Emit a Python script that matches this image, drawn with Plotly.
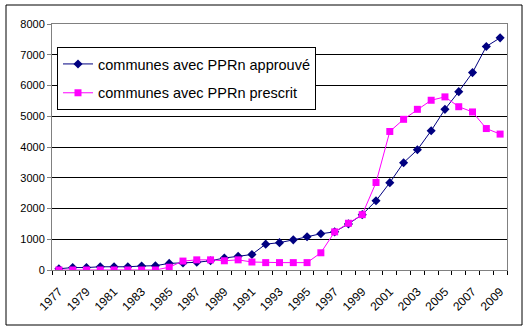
import plotly.graph_objects as go

years = list(range(1977, 2010))
approuve = [40, 80, 80, 105, 105, 105, 130, 140, 215, 230, 250, 300, 390, 445, 505,
            840, 890, 980, 1080, 1180, 1240, 1500, 1800, 2250, 2840, 3490, 3910, 4530,
            5225, 5800, 6420, 7270, 7550]
prescrit = [0, 0, 0, 0, 0, 0, 0, 0, 90, 290, 330, 330, 300, 330, 260,
            240, 240, 240, 240, 560, 1240, 1520, 1800, 2845, 4505, 4900, 5225, 5520,
            5630, 5310, 5140, 4600, 4420]
tick_years = list(range(1977, 2010, 2))
tick_labels = [str(y) for y in tick_years]
y_ticks = list(range(0, 8001, 1000))

fig = go.Figure()
fig.add_trace(go.Scatter(
    x=years, y=approuve, mode="lines+markers", name="communes avec PPRn approuvé",
    line=dict(color="#000080", width=1),
    marker=dict(symbol="diamond", size=7, color="#000080"),
    legendgroup="a",
))
fig.add_trace(go.Scatter(
    x=years, y=prescrit, mode="lines+markers", name="communes avec PPRn prescrit",
    line=dict(color="#FF00FF", width=1),
    marker=dict(symbol="square", size=7, color="#FF00FF"),
    legendgroup="b",
))

fig.update_layout(
    width=526, height=328,
    margin=dict(l=52, r=19, t=24, b=58),
    paper_bgcolor="white", plot_bgcolor="white",
    font=dict(family="Liberation Sans, Arial, sans-serif", color="black", size=11),
    showlegend=True,
    legend=dict(
        x=(57 - 52) / 455, y=(270 - 47) / 246, xanchor="left", yanchor="top",
        bgcolor="white", bordercolor="black", borderwidth=1,
        font=dict(size=14.5, color="black"),
        tracegroupgap=7,
    ),
    shapes=[dict(
        type="rect", xref="paper", yref="paper",
        x0=(6 - 52) / 455, x1=(522 - 52) / 455,
        y0=(270 - 325) / 246, y1=(270 - 5) / 246,
        line=dict(color="black", width=1), fillcolor="rgba(0,0,0,0)",
        layer="below",
    )],
)
fig.update_xaxes(
    range=[1976.5, 2009.5],
    tickmode="array", tickvals=tick_years, ticktext=tick_labels,
    tickangle=-45, ticks="", showgrid=False, zeroline=False,
    showline=True, linecolor="#808080", linewidth=1, mirror=True,
    minor=dict(tick0=1976.5, dtick=1, ticks="outside", ticklen=4,
               tickcolor="black", showgrid=False),
    tickfont=dict(size=12),
    ticklabelstandoff=9,
)
fig.update_yaxes(
    range=[0, 8000], tickmode="array", tickvals=y_ticks,
    ticks="outside", ticklen=4, tickcolor="#808080",
    showgrid=True, gridcolor="black", gridwidth=1, zeroline=False,
    showline=True, linecolor="#808080", linewidth=1, mirror=True,
    tickfont=dict(size=11),
)

fig.write_html("out.html")
